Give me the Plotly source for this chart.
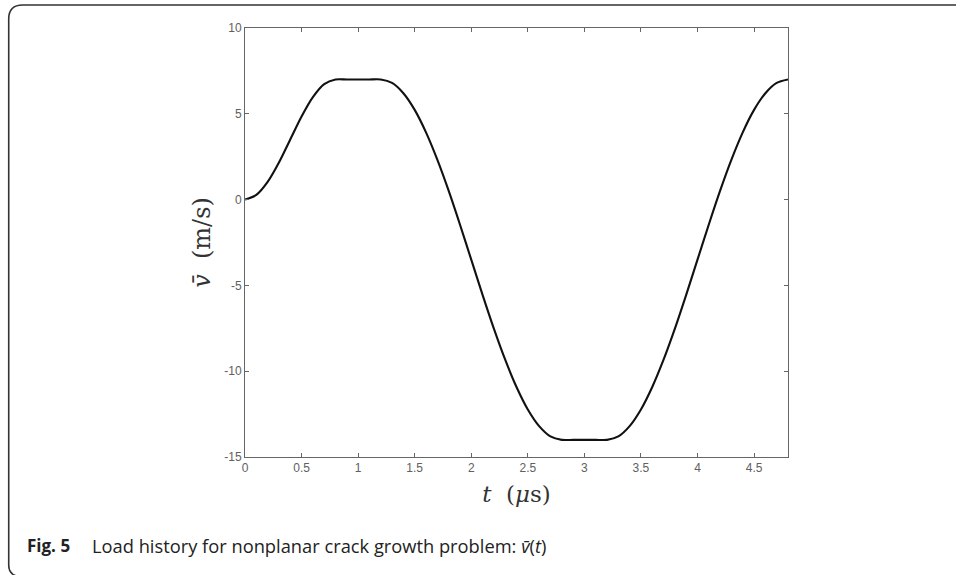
import plotly.graph_objects as go

# Load history samples: time (microseconds) and prescribed velocity (m/s)
t_us = [0.0, 0.1, 0.2, 0.3, 0.4, 0.5, 0.6, 0.7, 0.8, 0.9, 1.0, 1.1, 1.2,
        1.3, 1.4, 1.5, 1.6, 1.7, 1.8, 1.9, 2.0, 2.1, 2.2, 2.3, 2.4, 2.5,
        2.6, 2.7, 2.8, 2.9, 3.0, 3.1, 3.2, 3.3, 3.4, 3.5, 3.6, 3.7, 3.8,
        3.9, 4.0, 4.1, 4.2, 4.3, 4.4, 4.5, 4.6, 4.7, 4.8]
v_ms = [0.0, 0.27, 1.03, 2.16, 3.5, 4.84, 5.97, 6.73, 7.0, 7.0, 7.0, 7.0, 7.0,
        6.80, 6.20, 5.23, 3.92, 2.33, 0.52, -1.45, -3.5, -5.55, -7.52, -9.33,
        -10.92, -12.23, -13.20, -13.80, -14.0, -14.0, -14.0, -14.0, -14.0,
        -13.80, -13.20, -12.23, -10.92, -9.33, -7.52, -5.55, -3.5, -1.45,
        0.52, 2.33, 3.92, 5.23, 6.20, 6.80, 7.0]

x_ticks = [0, 0.5, 1, 1.5, 2, 2.5, 3, 3.5, 4, 4.5]
x_tick_text = ["0", "0.5", "1", "1.5", "2", "2.5", "3", "3.5", "4", "4.5"]
y_ticks = [-15, -10, -5, 0, 5, 10]
y_tick_text = ["-15", "-10", "-5", "0", "5", "10"]

W, H = 956, 575
L, R, T, B = 244.5, 788, 28, 457  # plot area edges in pixels


def px(xp):
    return (xp - L) / (R - L)


def py(yp):
    return (B - yp) / (B - T)


fig = go.Figure()
fig.add_trace(go.Scatter(
    x=t_us, y=v_ms, mode="lines",
    line=dict(color="#111111", width=2.1, shape="spline", smoothing=0.8),
    showlegend=False, hoverinfo="skip",
))

axis_common = dict(
    showgrid=False, zeroline=False, showline=True, linecolor="#666666",
    linewidth=1, mirror="ticks", ticks="inside", ticklen=4, tickwidth=1,
    tickcolor="#666666",
    tickfont=dict(family="Liberation Sans, Arial, sans-serif", size=12,
                  color="#606060"),
)

title_font = dict(family="DejaVu Serif, Liberation Serif, serif", size=23,
                  color="#333333")

fig.update_xaxes(
    range=[0, 4.8], tickvals=x_ticks, ticktext=x_tick_text,
    title=dict(text="<i>t</i>  (<i>μ</i>s)", standoff=11, font=title_font),
    **axis_common,
)
fig.update_yaxes(
    range=[-15, 10], tickvals=y_ticks, ticktext=y_tick_text,
    title=dict(text="<i>v̄</i>  (m/s)", standoff=6,
               font=dict(title_font, size=24)),
    **axis_common,
)

# Rounded frame around the figure (open on the right and bottom)
r = 14
frame = (
    f"M {px(W + 5)} {py(5)} L {px(8 + r)} {py(5)} "
    f"Q {px(8)} {py(5)} {px(8)} {py(5 + r)} "
    f"L {px(8)} {py(565)} "
    f"Q {px(8)} {py(574)} {px(16)} {py(576)}"
)
fig.add_shape(type="path", path=frame, xref="paper", yref="paper",
              line=dict(color="#333333", width=1.6), layer="above")

caption_font = dict(family="Open Sans, Noto Sans, sans-serif", size=18.3,
                    color="#222222")
fig.add_annotation(
    text="<b>Fig. 5</b>", xref="paper", yref="paper", x=px(24), y=py(545),
    xanchor="left", yanchor="middle", showarrow=False,
    font=dict(caption_font, size=17),
)
fig.add_annotation(
    text="Load history for nonplanar crack growth problem: "
         "<i>v̄</i>(<i>t</i>)",
    xref="paper", yref="paper", x=px(89), y=py(545),
    xanchor="left", yanchor="middle", showarrow=False,
    font=caption_font,
)

fig.update_layout(
    width=W, height=H,
    margin=dict(l=L, r=W - R, t=T, b=H - B),
    paper_bgcolor="white", plot_bgcolor="white",
)

fig.write_html("out.html")
